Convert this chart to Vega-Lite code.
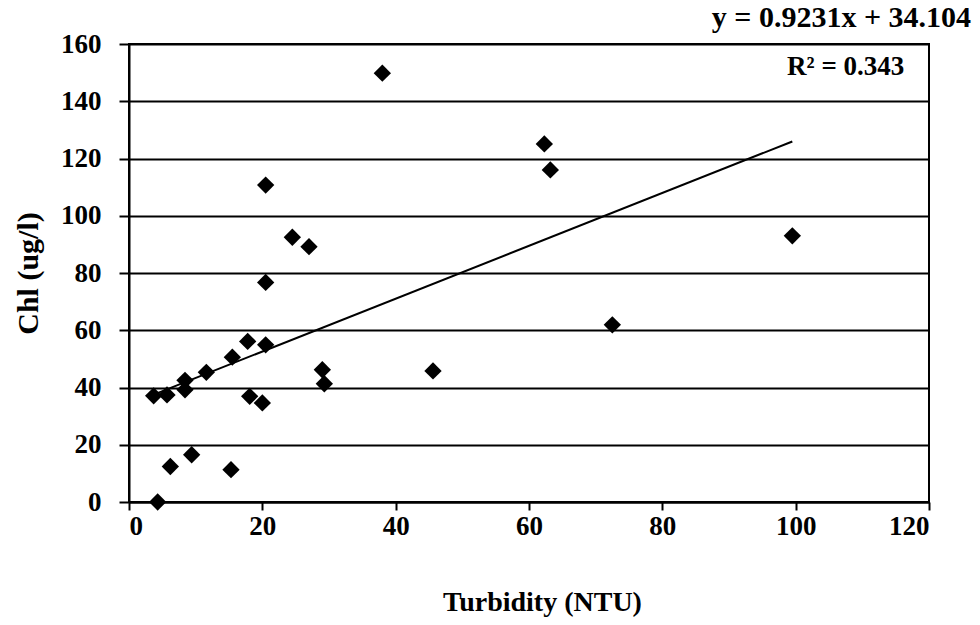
{
  "$schema": "https://vega.github.io/schema/vega-lite/v6.json",
  "width": 800,
  "height": 458,
  "autosize": {"type": "none"},
  "padding": {"left": 129, "top": 44, "right": 51, "bottom": 123},
  "background": "white",
  "config": {
    "view": {"stroke": "black", "strokeWidth": 2},
    "font": "Liberation Serif",
    "axis": {"labelFont": "Liberation Serif", "titleFont": "Liberation Serif"}
  },
  "datasets": {
    "points": [
      {"Turbidity": 38.0, "Chl": 149.8},
      {"Turbidity": 20.5, "Chl": 110.7},
      {"Turbidity": 24.5, "Chl": 92.5},
      {"Turbidity": 27.0, "Chl": 89.2},
      {"Turbidity": 62.3, "Chl": 125.1},
      {"Turbidity": 63.2, "Chl": 116.0},
      {"Turbidity": 99.5, "Chl": 93.0},
      {"Turbidity": 20.5, "Chl": 76.7},
      {"Turbidity": 17.8, "Chl": 56.1},
      {"Turbidity": 20.5, "Chl": 54.9},
      {"Turbidity": 15.5, "Chl": 50.6},
      {"Turbidity": 11.6, "Chl": 45.3},
      {"Turbidity": 8.4, "Chl": 42.5},
      {"Turbidity": 8.4, "Chl": 39.2},
      {"Turbidity": 3.7, "Chl": 37.1},
      {"Turbidity": 5.7, "Chl": 37.4},
      {"Turbidity": 18.1, "Chl": 36.9},
      {"Turbidity": 20.0, "Chl": 34.6},
      {"Turbidity": 29.0, "Chl": 46.2},
      {"Turbidity": 29.3, "Chl": 41.3},
      {"Turbidity": 45.6, "Chl": 45.8},
      {"Turbidity": 6.2, "Chl": 12.4},
      {"Turbidity": 9.4, "Chl": 16.5},
      {"Turbidity": 15.3, "Chl": 11.3},
      {"Turbidity": 4.3, "Chl": 0.0},
      {"Turbidity": 72.5, "Chl": 61.9}
    ],
    "trend": [
      {"Turbidity": 3.7, "Chl": 37.52},
      {"Turbidity": 99.5, "Chl": 125.95}
    ],
    "eq": [
      {"label": "y = 0.9231x + 34.104", "Turbidity": 126.3, "Chl": 169.2}
    ],
    "r2": [
      {"label": "R² = 0.343", "Turbidity": 116.3, "Chl": 152.1}
    ]
  },
  "layer": [
    {
      "data": {"name": "points"},
      "mark": {"type": "point", "shape": "diamond", "filled": true, "color": "black", "size": 300, "opacity": 1},
      "encoding": {
        "x": {
          "field": "Turbidity", "type": "quantitative",
          "scale": {"domain": [0, 120], "nice": false},
          "axis": {
            "title": "Turbidity (NTU)", "values": [0, 20, 40, 60, 80, 100, 120],
            "grid": false, "domainColor": "black", "domainWidth": 2,
            "tickColor": "black", "tickWidth": 2, "tickSize": 8,
            "labelFontSize": 27, "labelFontWeight": "bold", "labelColor": "black",
            "labelPadding": 3,
            "titleFontSize": 28, "titleFontWeight": "bold", "titleColor": "black",
            "titlePadding": 49, "titleX": 413
          }
        },
        "y": {
          "field": "Chl", "type": "quantitative",
          "scale": {"domain": [0, 160], "nice": false},
          "axis": {
            "title": "Chl (ug/l)", "values": [0, 20, 40, 60, 80, 100, 120, 140, 160],
            "grid": true, "gridColor": "black", "gridWidth": 2, "gridOpacity": 1,
            "domainColor": "black", "domainWidth": 2,
            "tickColor": "black", "tickWidth": 2, "tickSize": 10,
            "labelFontSize": 27, "labelFontWeight": "bold", "labelColor": "black",
            "labelPadding": 18,
            "titleFontSize": 30, "titleFontWeight": "bold", "titleColor": "black",
            "titlePadding": 17
          }
        }
      }
    },
    {
      "data": {"name": "trend"},
      "mark": {"type": "line", "color": "black", "strokeWidth": 2},
      "encoding": {
        "x": {"field": "Turbidity", "type": "quantitative"},
        "y": {"field": "Chl", "type": "quantitative"}
      }
    },
    {
      "data": {"name": "eq"},
      "mark": {"type": "text", "align": "right", "baseline": "middle", "font": "Liberation Serif", "fontSize": 30, "fontWeight": "bold", "color": "black"},
      "encoding": {
        "x": {"field": "Turbidity", "type": "quantitative"},
        "y": {"field": "Chl", "type": "quantitative"},
        "text": {"field": "label"}
      }
    },
    {
      "data": {"name": "r2"},
      "mark": {"type": "text", "align": "right", "baseline": "middle", "font": "Liberation Serif", "fontSize": 27, "fontWeight": "bold", "color": "black"},
      "encoding": {
        "x": {"field": "Turbidity", "type": "quantitative"},
        "y": {"field": "Chl", "type": "quantitative"},
        "text": {"field": "label"}
      }
    }
  ]
}
